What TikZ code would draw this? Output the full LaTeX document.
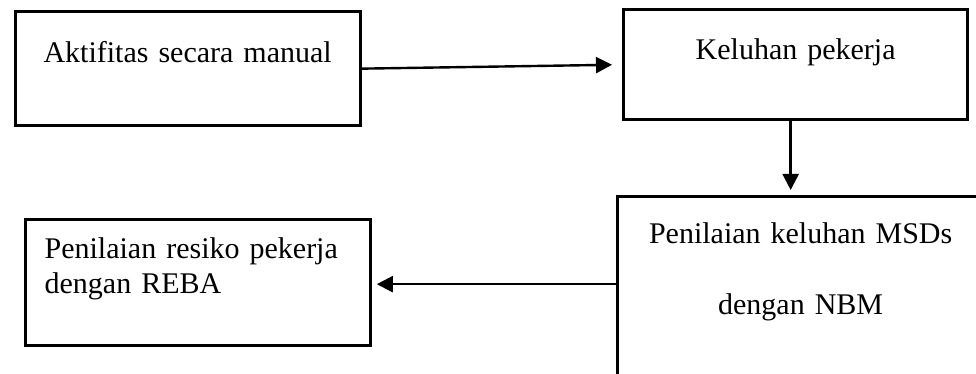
\documentclass[tikz,border=0pt]{standalone}
\usepackage{fontspec}
\setmainfont{Liberation Serif}
\usetikzlibrary{arrows.meta}

\begin{document}
\begin{tikzpicture}[x=1pt, y=-1pt,
    kotak/.style={draw, line width=3.3pt, inner sep=0pt, font=\fontsize{30}{35}\selectfont},
    panah/.style={line width=2.4pt, -{Triangle[length=16pt,width=16pt]}}]
        % Batas gambar
        \useasboundingbox (0,0) rectangle (976,374);
        \clip (0,0) rectangle (976,374);

        % Kotak-kotak alur
        \node[kotak, anchor=north west, text width=345pt, align=center,
              text height=51pt, text depth=63pt] (aktif) at (13.5,10) {Aktifitas secara manual};
        \node[kotak, anchor=north west, text width=344pt, align=center,
              text height=50pt, text depth=60pt] (keluhan) at (622,8) {Keluhan pekerja};
        \node[kotak, anchor=north west, text width=366pt, align=center,
              text height=47pt, text depth=138pt] (nbm) at (616,195)
              {Penilaian keluhan MSDs\\[36pt]dengan NBM};
        \node[kotak, anchor=north west, inner xsep=19.5pt, text width=306pt, align=left,
              text height=39.5pt, text depth=86.5pt] (reba) at (23.5,217.5)
              {Penilaian resiko pekerja\\dengan REBA};

        % Panah
        \draw[panah, shorten >=10pt] (aktif.east) -- (keluhan.west);
        \draw[panah, shorten >=5pt] ([xshift=-5pt]keluhan.south) -- ([xshift=-5pt]keluhan.south |- nbm.north);
        \draw[panah, shorten >=5pt] ([yshift=-2pt]reba.east -| nbm.west) -- ([yshift=-2pt]reba.east);

    \end{tikzpicture}
\end{document}
